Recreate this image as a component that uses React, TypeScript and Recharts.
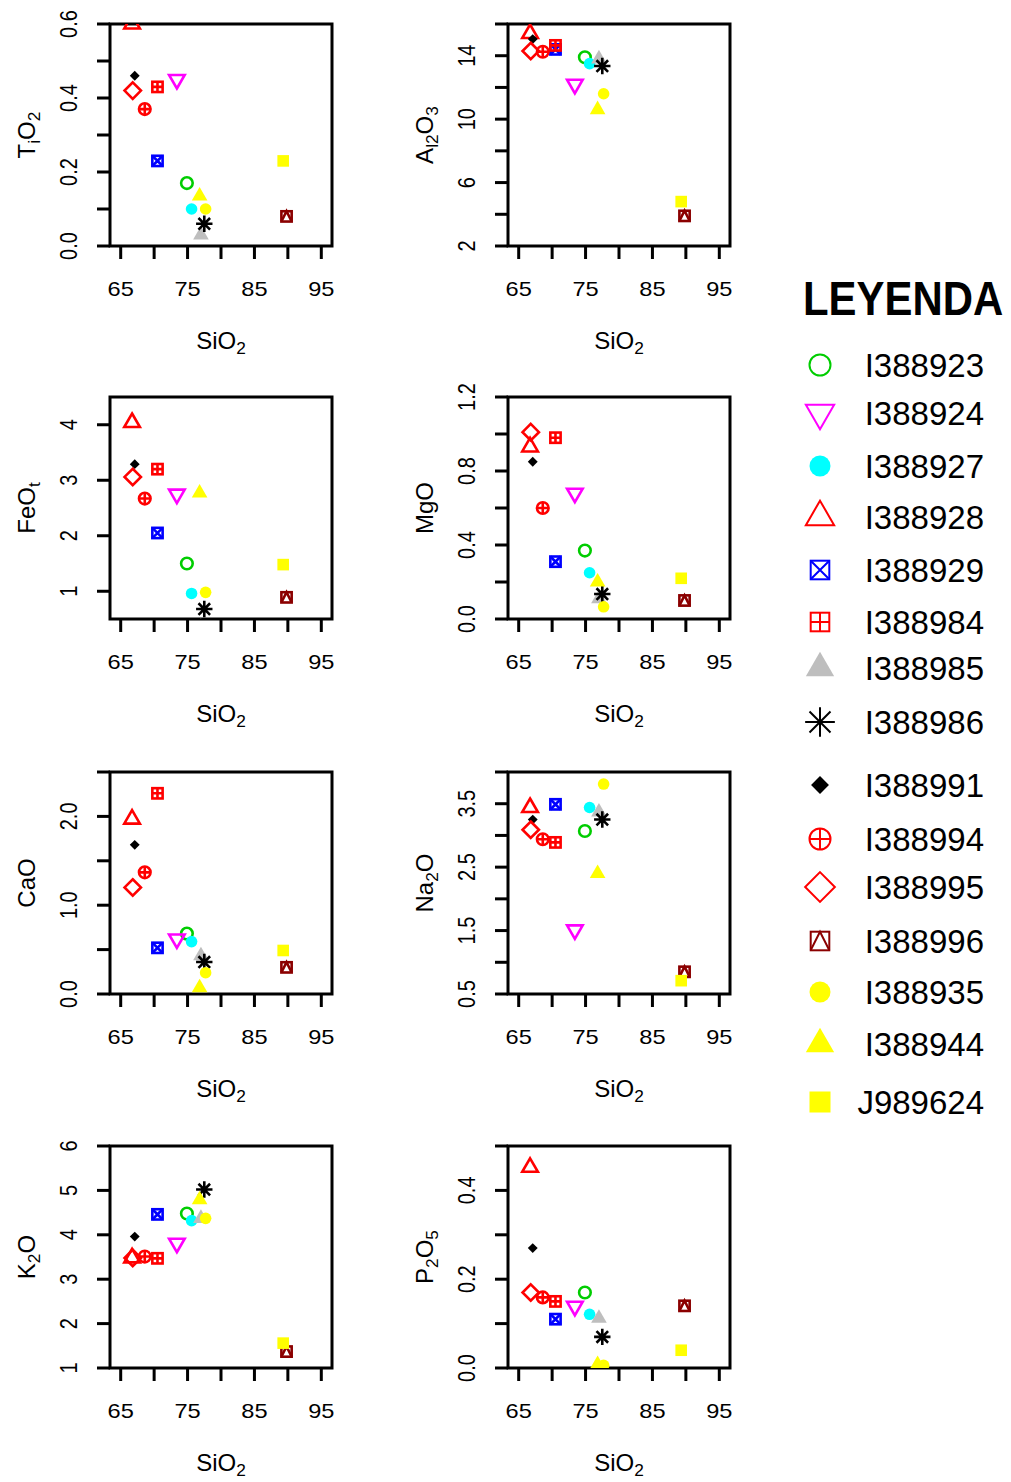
import React from 'react';
import { ScatterChart, Scatter, XAxis, YAxis, ReferenceArea } from 'recharts';

// sample ids, in plotting order
const samples = [
  'I388923', 'I388924', 'I388927', 'I388928', 'I388929', 'I388984', 'I388985', 'I388986',
  'I388991', 'I388994', 'I388995', 'I388996', 'I388935', 'I388944', 'J989624',
];

// major oxides (wt %), same order as samples
const sio2 = [74.9, 73.4, 75.6, 66.7, 70.5, 70.5, 77.0, 77.5, 67.1, 68.6, 66.8, 89.8, 77.7, 76.8, 89.3];
const tio2 = [0.17, 0.45, 0.10, 0.60, 0.23, 0.43, 0.03, 0.06, 0.46, 0.37, 0.42, 0.08, 0.10, 0.135, 0.23];
const al2o3 = [13.9, 12.2, 13.5, 15.4, 14.4, 14.65, 13.8, 13.35, 15.05, 14.25, 14.3, 3.9, 11.6, 10.6, 4.8];
const feot = [1.5, 2.75, 0.96, 4.04, 2.05, 3.2, 0.35, 0.68, 3.29, 2.67, 3.06, 0.89, 0.98, 2.77, 1.48];
const mgo = [0.37, 0.68, 0.25, 0.93, 0.31, 0.98, 0.11, 0.135, 0.85, 0.6, 1.01, 0.1, 0.066, 0.2, 0.22];
const cao = [0.68, 0.62, 0.59, 1.97, 0.52, 2.26, 0.43, 0.36, 1.68, 1.37, 1.2, 0.3, 0.24, 0.07, 0.49];
const na2o = [3.07, 1.51, 3.44, 3.44, 3.49, 2.89, 3.37, 3.25, 3.25, 2.94, 3.09, 0.85, 3.81, 2.4, 0.71];
const k2o = [4.48, 3.81, 4.32, 3.48, 4.46, 3.47, 4.37, 5.02, 3.96, 3.51, 3.48, 1.37, 4.37, 4.79, 1.56];
const p2o5 = [0.17, 0.139, 0.121, 0.452, 0.11, 0.15, 0.112, 0.07, 0.27, 0.159, 0.17, 0.14, 0.006, 0.008, 0.04];

const xTicks = [65, 70, 75, 80, 85, 90, 95];
const xTickLabels = [65, 75, 85, 95];

type Kind =
  | 'circle' | 'triDown' | 'dot' | 'tri' | 'sqX' | 'sqPlus' | 'triFill' | 'star'
  | 'diamondFill' | 'circlePlus' | 'diamond' | 'sqTri' | 'sqFill';

const markerKind: Record<string, Kind> = {
  I388923: 'circle', I388924: 'triDown', I388927: 'dot', I388928: 'tri', I388929: 'sqX',
  I388984: 'sqPlus', I388985: 'triFill', I388986: 'star', I388991: 'diamondFill',
  I388994: 'circlePlus', I388995: 'diamond', I388996: 'sqTri', I388935: 'dot',
  I388944: 'triFill', J989624: 'sqFill',
};

const markerColor: Record<string, string> = {
  I388923: '#00CD00', I388924: '#FF00FF', I388927: '#00FFFF', I388928: '#FF0000', I388929: '#0000FF',
  I388984: '#FF0000', I388985: '#BEBEBE', I388986: '#000000', I388991: '#000000',
  I388994: '#FF0000', I388995: '#FF0000', I388996: '#8B0000', I388935: '#FFFF00',
  I388944: '#FFFF00', J989624: '#FFFF00',
};

const FONT = '"Liberation Sans", Arial, Helvetica, sans-serif';
const X_DOMAIN: [number, number] = [63.4, 96.6];

// plot box inside each chart
const PL = 110;
const PT = 24;
const PS = 222;
const CHART_W = PL + PS + 30;
const CHART_H = 375;

// R-style point symbols
function Marker({ kind, color, cx, cy, r, lw }: { kind: Kind; color: string; cx: number; cy: number; r: number; lw: number }) {
  const s = { stroke: color, strokeWidth: lw, fill: 'none' };
  const h = r * 0.886;
  const tr = 1.555 * r;
  const tw = 1.347 * r;
  const tb = 0.778 * r;
  switch (kind) {
    case 'circle':
      return <circle cx={cx} cy={cy} r={r} {...s} />;
    case 'dot':
      return <circle cx={cx} cy={cy} r={r} fill={color} />;
    case 'tri':
      return <polygon points={`${cx},${cy - tr} ${cx + tw},${cy + tb} ${cx - tw},${cy + tb}`} {...s} />;
    case 'triFill':
      return <polygon points={`${cx},${cy - tr} ${cx + tw},${cy + tb} ${cx - tw},${cy + tb}`} fill={color} />;
    case 'triDown':
      return <polygon points={`${cx},${cy + tr} ${cx + tw},${cy - tb} ${cx - tw},${cy - tb}`} {...s} />;
    case 'sqX':
      return (
        <g>
          <rect x={cx - h} y={cy - h} width={2 * h} height={2 * h} {...s} />
          <path d={`M${cx - h},${cy - h}L${cx + h},${cy + h}M${cx - h},${cy + h}L${cx + h},${cy - h}`} {...s} />
        </g>
      );
    case 'sqPlus':
      return (
        <g>
          <rect x={cx - h} y={cy - h} width={2 * h} height={2 * h} {...s} />
          <path d={`M${cx - h},${cy}L${cx + h},${cy}M${cx},${cy - h}L${cx},${cy + h}`} {...s} />
        </g>
      );
    case 'sqTri':
      return (
        <g>
          <rect x={cx - h} y={cy - h} width={2 * h} height={2 * h} {...s} />
          <path d={`M${cx - h},${cy + h}L${cx},${cy - h}L${cx + h},${cy + h}`} {...s} />
        </g>
      );
    case 'sqFill':
      return <rect x={cx - r} y={cy - r} width={2 * r} height={2 * r} fill={color} />;
    case 'star': {
      const d = r;
      const p = r * 1.414;
      return (
        <path
          d={`M${cx - d},${cy - d}L${cx + d},${cy + d}M${cx - d},${cy + d}L${cx + d},${cy - d}M${cx - p},${cy}L${cx + p},${cy}M${cx},${cy - p}L${cx},${cy + p}`}
          {...s}
        />
      );
    }
    case 'diamondFill': {
      const d = r * 0.85;
      return <polygon points={`${cx},${cy - d} ${cx + d},${cy} ${cx},${cy + d} ${cx - d},${cy}`} fill={color} />;
    }
    case 'diamond': {
      const d = r * 1.414;
      return <polygon points={`${cx},${cy - d} ${cx + d},${cy} ${cx},${cy + d} ${cx - d},${cy}`} {...s} />;
    }
    case 'circlePlus':
      return (
        <g>
          <circle cx={cx} cy={cy} r={r} {...s} />
          <path d={`M${cx - r},${cy}L${cx + r},${cy}M${cx},${cy - r}L${cx},${cy + r}`} {...s} />
        </g>
      );
    default:
      return null;
  }
}

// text with subscripted pieces: [text, isSub]
function Formula({ parts, size }: { parts: [string, boolean][]; size: number }) {
  let shift = 0;
  return (
    <>
      {parts.map(([t, sub], i) => {
        const target = sub ? size * 0.22 : 0;
        const dy = target - shift;
        shift = target;
        return (
          <tspan key={i} dy={dy} fontSize={sub ? size * 0.72 : size}>
            {t}
          </tspan>
        );
      })}
    </>
  );
}

interface Panel {
  title: [string, boolean][];
  values: number[];
  domain: [number, number];
  ticks: number[];
  labels: number[];
  digits: number;
  left: number;
  top: number;
}

const panels: Panel[] = [
  { title: [['T', false], ['i', true], ['O', false], ['2', true]], values: tio2, domain: [0, 0.6],
    ticks: [0, 0.1, 0.2, 0.3, 0.4, 0.5, 0.6], labels: [0, 0.2, 0.4, 0.6], digits: 1, left: 110, top: 24 },
  { title: [['A', false], ['l2', true], ['O', false], ['3', true]], values: al2o3, domain: [2, 16],
    ticks: [2, 4, 6, 8, 10, 12, 14, 16], labels: [2, 6, 10, 14], digits: 0, left: 508, top: 24 },
  { title: [['FeO', false], ['t', true]], values: feot, domain: [0.5, 4.5],
    ticks: [1, 2, 3, 4], labels: [1, 2, 3, 4], digits: 0, left: 110, top: 397 },
  { title: [['MgO', false]], values: mgo, domain: [0, 1.2],
    ticks: [0, 0.2, 0.4, 0.6, 0.8, 1.0, 1.2], labels: [0, 0.4, 0.8, 1.2], digits: 1, left: 508, top: 397 },
  { title: [['CaO', false]], values: cao, domain: [0, 2.5],
    ticks: [0, 0.5, 1.0, 1.5, 2.0, 2.5], labels: [0, 1.0, 2.0], digits: 1, left: 110, top: 772 },
  { title: [['Na', false], ['2', true], ['O', false]], values: na2o, domain: [0.5, 4.0],
    ticks: [0.5, 1.0, 1.5, 2.0, 2.5, 3.0, 3.5, 4.0], labels: [0.5, 1.5, 2.5, 3.5], digits: 1, left: 508, top: 772 },
  { title: [['K', false], ['2', true], ['O', false]], values: k2o, domain: [1, 6],
    ticks: [1, 2, 3, 4, 5, 6], labels: [1, 2, 3, 4, 5, 6], digits: 0, left: 110, top: 1146 },
  { title: [['P', false], ['2', true], ['O', false], ['5', true]], values: p2o5, domain: [0, 0.5],
    ticks: [0, 0.1, 0.2, 0.3, 0.4, 0.5], labels: [0, 0.2, 0.4], digits: 1, left: 508, top: 1146 },
];

const XTick = (props: any) => {
  const { x, y, payload } = props;
  if (!xTickLabels.includes(payload.value)) return <g />;
  return (
    <text transform={`translate(${x},${y + 35}) scale(1.18,1)`} textAnchor="middle" fontSize={20} fontFamily={FONT} fill="#000">
      {payload.value}
    </text>
  );
};

const makeYTick = (p: Panel) => (props: any) => {
  const { x, y, payload } = props;
  if (!p.labels.includes(payload.value)) return <g />;
  return (
    <text transform={`translate(${x - 18.5},${y}) scale(1.2,1) rotate(-90)`} textAnchor="middle" fontSize={20} fontFamily={FONT} fill="#000">
      {payload.value.toFixed(p.digits)}
    </text>
  );
};

function HarkerPanel({ p }: { p: Panel }) {
  return (
    <div style={{ position: 'absolute', left: p.left - PL, top: p.top - PT }}>
      <ScatterChart width={CHART_W} height={CHART_H} margin={{ top: PT, right: CHART_W - PL - PS, bottom: 0, left: 0 }}>
        <XAxis
          type="number"
          dataKey="x"
          domain={X_DOMAIN}
          ticks={xTicks}
          interval={0}
          allowDataOverflow
          height={CHART_H - PT - PS}
          axisLine={false}
          tickSize={13}
          tickLine={{ stroke: '#000', strokeWidth: 3 }}
          tick={<XTick />}
          label={() => (
            <text x={PL + PS / 2} y={PT + PS + 103} textAnchor="middle" fontSize={24} fontFamily={FONT} fill="#000">
              <Formula parts={[['SiO', false], ['2', true]]} size={24} />
            </text>
          )}
        />
        <YAxis
          type="number"
          dataKey="y"
          domain={p.domain}
          ticks={p.ticks}
          interval={0}
          allowDataOverflow
          width={PL}
          axisLine={false}
          tickSize={13}
          tickLine={{ stroke: '#000', strokeWidth: 3 }}
          tick={makeYTick(p)}
          label={() => (
            <text transform={`translate(${PL - 75},${PT + PS / 2}) rotate(-90)`} textAnchor="middle" fontSize={24} fontFamily={FONT} fill="#000">
              <Formula parts={p.title} size={24} />
            </text>
          )}
        />
        <ReferenceArea
          x1={X_DOMAIN[0]}
          x2={X_DOMAIN[1]}
          y1={p.domain[0]}
          y2={p.domain[1]}
          fill="none"
          fillOpacity={0}
          stroke="#000"
          strokeWidth={3}
          ifOverflow="visible"
        />
        {samples.map((id, i) => (
          <Scatter
            key={id}
            name={id}
            data={[{ x: sio2[i], y: p.values[i] }]}
            isAnimationActive={false}
            shape={(sp: any) => <Marker kind={markerKind[id]} color={markerColor[id]} cx={sp.cx} cy={sp.cy} r={5.8} lw={2.6} />}
          />
        ))}
      </ScatterChart>
    </div>
  );
}

// legend row centres
const legendRows = [365, 413, 466, 517, 570, 622, 668, 722, 785, 839, 887, 941, 992, 1044, 1102];

function Leyenda() {
  const ox = 790;
  const oy = 250;
  return (
    <svg width={221} height={900} style={{ position: 'absolute', left: ox, top: oy }}>
      <text transform={`translate(${803 - ox},${315 - oy}) scale(0.855,1)`} fontSize={49} fontWeight="bold" fontFamily={FONT} fill="#000">
        LEYENDA
      </text>
      {samples.map((id, i) => (
        <g key={id}>
          <Marker kind={markerKind[id]} color={markerColor[id]} cx={820 - ox} cy={legendRows[i] - oy} r={10.5} lw={2} />
          <text x={984 - ox} y={legendRows[i] + 12 - oy} textAnchor="end" fontSize={33} fontFamily={FONT} fill="#000">
            {id}
          </text>
        </g>
      ))}
    </svg>
  );
}

export default function App() {
  return (
    <div style={{ position: 'absolute', left: 0, top: 0, width: 1011, height: 1482, overflow: 'hidden', background: '#fff' }}>
      {panels.map((p, i) => (
        <HarkerPanel key={i} p={p} />
      ))}
      <Leyenda />
    </div>
  );
}
